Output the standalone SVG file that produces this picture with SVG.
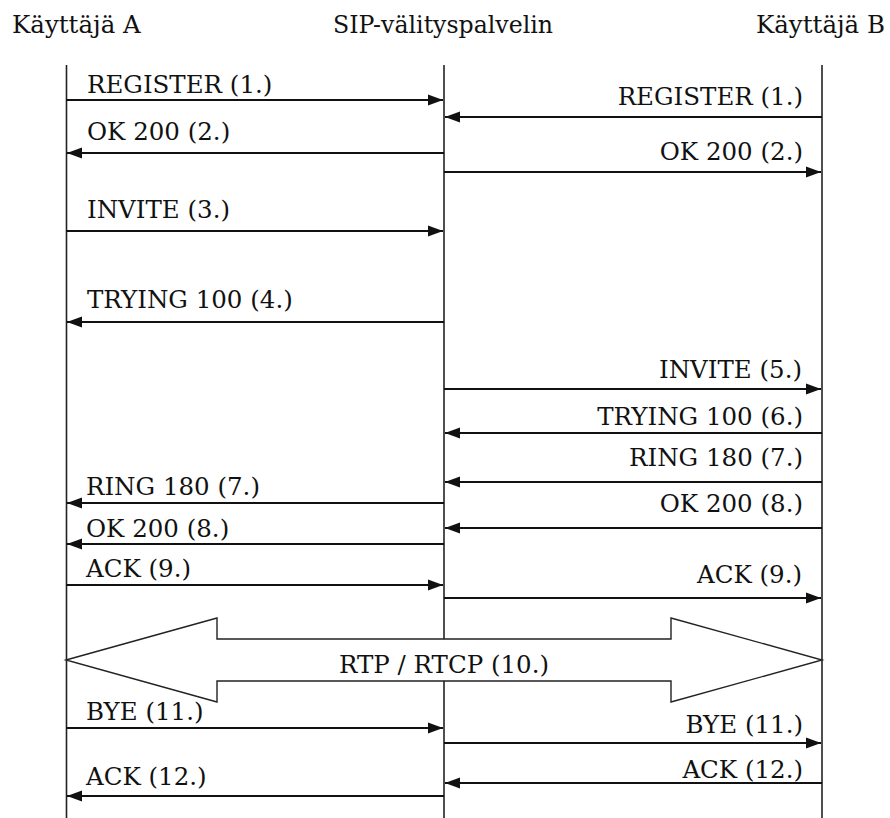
<svg xmlns="http://www.w3.org/2000/svg" width="890" height="818" viewBox="0 0 890 818">
<style>
text{font-family:"DejaVu Serif","Liberation Serif",serif;font-size:24.5px;fill:#111}
.r{text-anchor:end}
.life{stroke:#222;stroke-width:1.6;fill:none}
.msg{stroke:#111;stroke-width:2;fill:none;marker-end:url(#ah)}
</style>
<defs>
<marker id="ah" markerUnits="userSpaceOnUse" markerWidth="16" markerHeight="12" refX="15" refY="6" orient="auto">
<path d="M0,0.5 L15,6 L0,11.5 z" fill="#111"/>
</marker>
</defs>
<rect width="890" height="818" fill="#fff"/>
<g id="userA">
<text x="12" y="33">Käyttäjä A</text>
<line class="life" x1="66.5" y1="65" x2="66.5" y2="818"/>
</g>
<g id="server">
<text x="333" y="33" textLength="220" lengthAdjust="spacingAndGlyphs">SIP-välityspalvelin</text>
<line class="life" x1="444" y1="65" x2="444" y2="818"/>
</g>
<g id="userB">
<text class="r" x="885" y="33">Käyttäjä B</text>
<line class="life" x1="822" y1="65" x2="822" y2="818"/>
</g>
<g id="connectors">
<line class="msg" x1="66" y1="100" x2="443" y2="100"/>
<text x="87" y="93">REGISTER (1.)</text>
<line class="msg" x1="822" y1="117" x2="445" y2="117"/>
<text class="r" x="803" y="105">REGISTER (1.)</text>
<line class="msg" x1="444" y1="153" x2="67" y2="153"/>
<text x="87" y="140">OK 200 (2.)</text>
<line class="msg" x1="444" y1="172" x2="821" y2="172"/>
<text class="r" x="803" y="160">OK 200 (2.)</text>
<line class="msg" x1="66" y1="231" x2="443" y2="231"/>
<text x="87" y="218">INVITE (3.)</text>
<line class="msg" x1="444" y1="322" x2="67" y2="322"/>
<text x="87" y="308">TRYING 100 (4.)</text>
<line class="msg" x1="444" y1="389" x2="821" y2="389"/>
<text class="r" x="802" y="378">INVITE (5.)</text>
<line class="msg" x1="822" y1="433" x2="445" y2="433"/>
<text class="r" x="803" y="425">TRYING 100 (6.)</text>
<line class="msg" x1="822" y1="482" x2="445" y2="482"/>
<text class="r" x="803" y="466">RING 180 (7.)</text>
<line class="msg" x1="444" y1="503" x2="67" y2="503"/>
<text x="86" y="495">RING 180 (7.)</text>
<line class="msg" x1="822" y1="528" x2="445" y2="528"/>
<text class="r" x="803" y="512">OK 200 (8.)</text>
<line class="msg" x1="444" y1="544" x2="67" y2="544"/>
<text x="86" y="537">OK 200 (8.)</text>
<line class="msg" x1="66" y1="585" x2="443" y2="585"/>
<text x="86" y="577">ACK (9.)</text>
<line class="msg" x1="444" y1="598" x2="821" y2="598"/>
<text class="r" x="802" y="583">ACK (9.)</text>
<polygon points="66,660 217,618 217,639 671,639 671,618 822,660 671,702 671,681 217,681 217,702" fill="#fff" stroke="#222" stroke-width="1.4"/>
<text x="444" y="673" text-anchor="middle">RTP / RTCP (10.)</text>
<line class="msg" x1="66" y1="728" x2="443" y2="728"/>
<text x="86" y="720">BYE (11.)</text>
<line class="msg" x1="444" y1="743" x2="821" y2="743"/>
<text class="r" x="803" y="733">BYE (11.)</text>
<line class="msg" x1="822" y1="783" x2="445" y2="783"/>
<text class="r" x="803" y="778">ACK (12.)</text>
<line class="msg" x1="444" y1="796" x2="67" y2="796"/>
<text x="86" y="785">ACK (12.)</text>
</g>
</svg>
